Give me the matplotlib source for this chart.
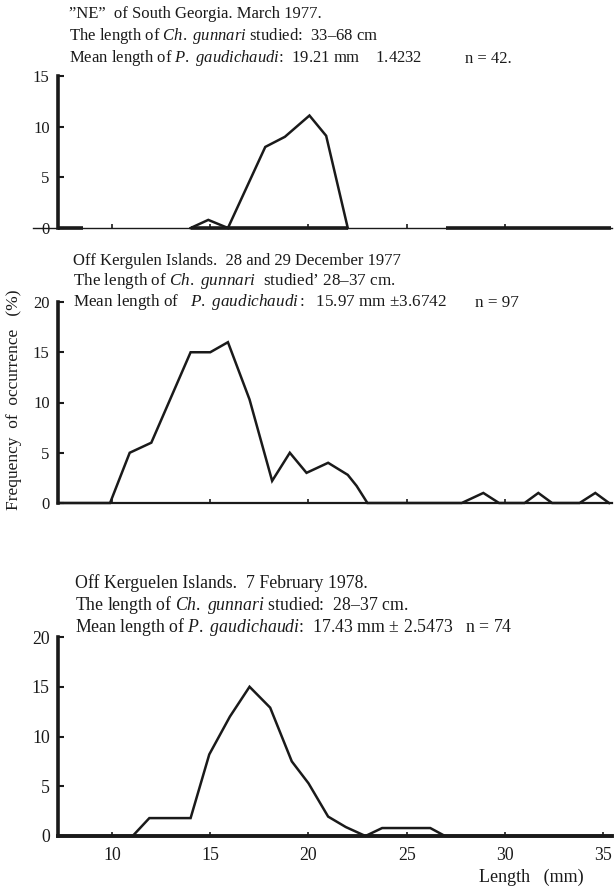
import matplotlib
matplotlib.use("Agg")
import matplotlib.pyplot as plt

plt.rcParams['font.family'] = ['Liberation Serif', 'DejaVu Serif']
plt.rcParams['mathtext.fontset'] = 'custom'
plt.rcParams['mathtext.rm'] = 'Liberation Serif'
plt.rcParams['mathtext.it'] = 'Liberation Serif:italic'

# ---- shared axis ----
x_range = (7.25, 35.45)
x_ticks = [10, 15, 20, 25, 30, 35]

# ---- "NE" of South Georgia, March 1977 ----
ne_len = [14, 14.9, 15.9, 17.8, 18.8, 20.05, 20.9, 22.0]
ne_freq = [0, 0.8, 0, 8.0, 9.0, 11.1, 9.1, 0]
ne_zero_runs = [(7.25, 8.5), (14, 22.0), (27.0, 35.4)]
ne_yticks = [0, 5, 10, 15]

# ---- Off Kergulen Islands, 28-29 December 1977 ----
dec_len = [7.25, 9.9, 10.9, 12, 14, 15, 15.9, 17, 18.15, 19.05, 19.9, 21.0, 22.0,
           22.45, 23.0, 27.8, 28.9, 29.7, 31.0, 31.7, 32.4, 33.8, 34.6, 35.3]
dec_freq = [0, 0, 5.0, 6.0, 15.0, 15.0, 16.0, 10.3, 2.2, 5.0, 3.0, 4.0, 2.8,
            1.7, 0, 0, 1.0, 0, 0, 1.0, 0, 0, 1.0, 0]
dec_yticks = [0, 5, 10, 15, 20]

# ---- Off Kerguelen Islands, 7 February 1978 ----
feb_len = [7.25, 11.05, 11.9, 14.0, 14.95, 16.0, 17.0, 18.05, 19.15, 20.0, 21.0,
           21.9, 22.9, 23.75, 26.2, 26.95, 35.4]
feb_freq = [0, 0, 1.8, 1.8, 8.2, 12.0, 15.0, 12.9, 7.5, 5.3, 1.95, 0.9, 0, 0.8,
            0.8, 0, 0]
feb_yticks = [0, 5, 10, 15, 20]

W, H = 616, 886
fig = plt.figure(figsize=(W / 100, H / 100), dpi=100)

FS = 12
INK = '#1a1a1a'


def fy(px):
    return 1 - px / H


def make_axes(y_zero_px, y_top_px, ymax, base_lw, fs):
    left, right = 58, 612
    ax = fig.add_axes([left / W, fy(y_zero_px), (right - left) / W,
                       (y_zero_px - y_top_px) / H])
    ax.set_xlim(*x_range)
    ax.set_ylim(0, ymax)
    for s in ('top', 'right'):
        ax.spines[s].set_visible(False)
    ax.spines['left'].set_linewidth(2.6)
    ax.spines['left'].set_color(INK)
    ax.spines['bottom'].set_linewidth(base_lw)
    ax.spines['bottom'].set_color(INK)
    ax.tick_params(axis='y', direction='in', length=4, width=1.5, pad=6,
                   labelsize=fs, colors=INK)
    ax.tick_params(axis='x', direction='in', length=3, width=1.2, pad=8,
                   labelsize=fs, colors=INK)
    ax.patch.set_alpha(0)
    return ax


# top panel
ax1 = make_axes(228, 76, 15, 1.0, FS)
ax1.set_yticks(ne_yticks)
ax1.set_xticks(x_ticks[:-1])
ax1.set_xticklabels([])
ax1.plot(ne_len, ne_freq, color=INK, lw=1.8, solid_joinstyle='miter', clip_on=False)
for a, b in ne_zero_runs:
    ax1.plot([a, b], [0, 0], color=INK, lw=2.6, solid_capstyle='butt', clip_on=False)
ax1.plot([-0.045, 0], [0, 0], transform=ax1.get_yaxis_transform(),
         color=INK, lw=1.0, clip_on=False)

# middle panel
ax2 = make_axes(503, 302, 20, 1.6, FS)
ax2.set_yticks(dec_yticks)
ax2.set_xticks(x_ticks[:-1])
ax2.set_xticklabels([])
ax2.plot(dec_len, dec_freq, color=INK, lw=1.8, solid_joinstyle='miter', clip_on=False)

# bottom panel
ax3 = make_axes(836, 637, 20, 2.8, 12.8)
ax3.set_yticks(feb_yticks)
ax3.set_xticks(x_ticks)
ax3.plot(feb_len, feb_freq, color=INK, lw=1.8, solid_joinstyle='miter', clip_on=False)
fig.text(584 / W, fy(877), 'Length   (mm)', ha='right', va='center',
         fontsize=13, color=INK)

# panel headings: (x, y, text, size)
heads = [
    (69, 14, '\u201dNE\u201d  of South Georgia. March 1977.', FS),
    (69, 36, 'The length of $\\mathit{Ch.\\ gunnari}$ studied:  33\u201368 cm', FS),
    (69, 58, 'Mean length of $\\mathit{P.\\ gaudichaudi}$:  19.21 mm    1.4232', FS),
    (465, 59, 'n = 42.', FS),
    (73, 261, 'Off Kergulen Islands.  28 and 29 December 1977', FS),
    (73, 281, 'The length of $\\mathit{Ch.\\ gunnari}$  studied\u2019 28\u201337 cm.', 12.3),
    (73, 302, 'Mean length of   $\\mathit{P.\\ gaudichaudi:}$  15.97 mm \u00b13.6742', 12.3),
    (475, 303, 'n = 97', 12.3),
    (75, 583, 'Off Kerguelen Islands.  7 February 1978.', 12.8),
    (75, 605, 'The length of $\\mathit{Ch.\\ gunnari}$ studied:  28\u201337 cm.', 12.8),
    (75, 627, 'Mean length of $\\mathit{P.\\ gaudichaudi}$:  17.43 mm \u00b1 2.5473   n = 74', 12.8),
]
for x0, y0, s, size in heads:
    fig.text(x0 / W, fy(y0), s, ha='left', va='center', fontsize=size, color=INK)

fig.text(14 / W, fy(400), 'Frequency  of  occurrence   (%)', rotation=90,
         ha='center', va='center', fontsize=12.5, color=INK)

fig.savefig('out.png', dpi=100, facecolor='white')
